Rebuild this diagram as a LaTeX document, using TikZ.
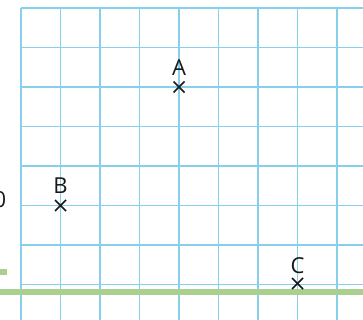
\documentclass[tikz,border=0pt]{standalone}
\usepackage{fontspec}
\setmainfont{Open Sans}
\definecolor{gridblue}{RGB}{135,208,235}
\definecolor{leafgreen}{RGB}{170,207,142}
\definecolor{inkblack}{RGB}{25,25,25}
\tikzset{
  gridline/.style={draw=gridblue, line width=1.9pt},
  crossmark/.style={draw=inkblack, line width=1.6pt},
  ptlabel/.style={inner sep=0pt, text=inkblack, font=\fontsize{22}{22}\selectfont},
}
\begin{document}
\begin{tikzpicture}[x=1pt,y=-1pt]
\useasboundingbox (0,0) rectangle (363,320);
\clip (0,0) rectangle (363,320);
\fill[white] (0,0) rectangle (363,320);
% grid
\foreach \gx in {21,60.5,100,139.5,179,218.5,258,297.5,337}{
  \draw[gridline] (\gx,8) -- (\gx,330);
}
\foreach \gy in {8,47.5,87,126.5,166,205.5,245,284.5}{
  \draw[gridline] (21,\gy) -- (370,\gy);
}
% green lines
\fill[leafgreen] (0,288.7) rectangle (363,294.7);
\fill[leafgreen] (0,269.3) rectangle (7,275.3);
% cut-off digit
\node[ptlabel, anchor=base east] (zero) at (6.5,207) {0};
% points
\coordinate (A) at (179,87);
\coordinate (B) at (60.5,205.5);
\coordinate (C) at (297.5,283.5);
\foreach \p in {A,B,C}{
  \draw[crossmark] ([shift={(-5.5,-5.5)}]\p) -- ([shift={(5.5,5.5)}]\p);
  \draw[crossmark] ([shift={(-5.5,5.5)}]\p) -- ([shift={(5.5,-5.5)}]\p);
}
\node[ptlabel, anchor=base] (la) at (179,76) {A};
\node[ptlabel, anchor=base] (lb) at (60.5,193.5) {B};
\node[ptlabel, anchor=base] (lc) at (297.5,273) {C};
\end{tikzpicture}
\end{document}
